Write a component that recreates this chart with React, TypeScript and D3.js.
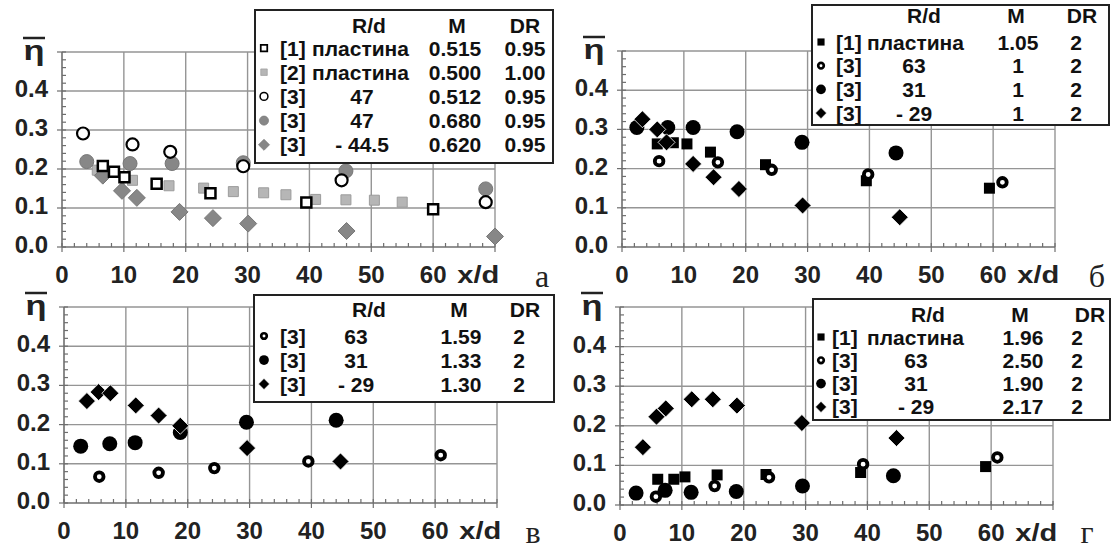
import React from "react";
import * as d3 from "d3";

type Pt = [number, number];

const xTicks = [0, 10, 20, 30, 40, 50, 60];
const yTicks = [0, 0.1, 0.2, 0.3, 0.4];
const yTickLabels = ["0.0", "0.1", "0.2", "0.3", "0.4"];
const legendHead = ["R/d", "M", "DR"];

// panel а
const aPlate1: Pt[] = [[6.6, 0.208], [8.4, 0.193], [10.1, 0.179], [15.3, 0.162], [24.0, 0.138], [39.5, 0.114], [60.0, 0.097]];
const aPlate2: Pt[] = [[5.7, 0.197], [11.4, 0.171], [17.3, 0.157], [22.9, 0.151], [27.7, 0.142], [32.6, 0.139], [36.2, 0.134], [41.0, 0.122], [45.9, 0.121], [50.5, 0.12], [55.0, 0.115]];
const aOpen47: Pt[] = [[3.4, 0.291], [11.4, 0.263], [17.5, 0.244], [29.3, 0.207], [45.2, 0.171], [68.5, 0.115]];
const aGray47: Pt[] = [[4.0, 0.219], [11.0, 0.214], [17.8, 0.214], [29.3, 0.216], [45.9, 0.195], [68.5, 0.149]];
const aNeg445: Pt[] = [[6.6, 0.183], [9.7, 0.144], [12.1, 0.126], [19.0, 0.09], [24.4, 0.074], [30.1, 0.06], [46.0, 0.041], [70.0, 0.027]];

// panel б
const bPlate: Pt[] = [[5.7, 0.263], [8.3, 0.266], [10.5, 0.263], [14.3, 0.242], [23.2, 0.21], [39.5, 0.169], [59.4, 0.15]];
const b63: Pt[] = [[6.0, 0.219], [15.5, 0.216], [24.2, 0.197], [39.8, 0.185], [61.5, 0.165]];
const b31: Pt[] = [[2.4, 0.305], [7.4, 0.305], [11.5, 0.305], [18.6, 0.294], [29.1, 0.267], [44.3, 0.24]];
const bNeg29: Pt[] = [[3.3, 0.326], [5.7, 0.3], [7.2, 0.267], [11.5, 0.212], [14.8, 0.178], [18.9, 0.148], [29.2, 0.106], [44.9, 0.076]];

// panel в
const v63: Pt[] = [[5.7, 0.067], [15.3, 0.077], [24.3, 0.089], [39.5, 0.106], [60.9, 0.122]];
const v31: Pt[] = [[2.7, 0.145], [7.4, 0.151], [11.5, 0.154], [18.8, 0.18], [29.5, 0.206], [44.0, 0.211]];
const vNeg29: Pt[] = [[3.7, 0.26], [5.6, 0.283], [7.5, 0.28], [11.6, 0.249], [15.3, 0.223], [18.8, 0.197], [29.6, 0.14], [44.7, 0.106]];

// panel г
const gPlate: Pt[] = [[6.1, 0.065], [8.7, 0.065], [10.5, 0.071], [15.7, 0.076], [23.6, 0.077], [38.9, 0.082], [59.1, 0.097]];
const g63: Pt[] = [[5.8, 0.021], [15.3, 0.048], [24.1, 0.07], [39.3, 0.103], [61.0, 0.12]];
const g31: Pt[] = [[2.6, 0.03], [7.3, 0.037], [11.5, 0.032], [18.8, 0.034], [29.5, 0.048], [44.2, 0.074]];
const gNeg29: Pt[] = [[3.7, 0.146], [5.9, 0.223], [7.4, 0.244], [11.6, 0.267], [15.0, 0.267], [18.9, 0.251], [29.4, 0.207], [44.7, 0.169]];

// legend tables
const aRefs = ["[1]", "[2]", "[3]", "[3]", "[3]"];
const aRd = ["пластина", "пластина", "47", "47", "- 44.5"];
const aM = ["0.515", "0.500", "0.512", "0.680", "0.620"];
const aDR = ["0.95", "1.00", "0.95", "0.95", "0.95"];
const bRefs = ["[1]", "[3]", "[3]", "[3]"];
const bRd = ["пластина", "63", "31", "- 29"];
const bM = ["1.05", "1", "1", "1"];
const bDR = ["2", "2", "2", "2"];
const vRefs = ["[3]", "[3]", "[3]"];
const vRd = ["63", "31", "- 29"];
const vM = ["1.59", "1.33", "1.30"];
const vDR = ["2", "2", "2"];
const gRefs = ["[1]", "[3]", "[3]", "[3]"];
const gRd = ["пластина", "63", "31", "- 29"];
const gM = ["1.96", "2.50", "1.90", "2.17"];
const gDR = ["2", "2", "2", "2"];

type Mk = { shape: "square" | "circle" | "diamond"; size: number; fill: string; stroke: string; sw: number };

const openSquare: Mk = { shape: "square", size: 10, fill: "#fff", stroke: "#000", sw: 2.5 };
const graySquare: Mk = { shape: "square", size: 10, fill: "#b6b6b6", stroke: "#9c9c9c", sw: 1 };
const openCircle: Mk = { shape: "circle", size: 6, fill: "#fff", stroke: "#000", sw: 2.2 };
const grayCircle: Mk = { shape: "circle", size: 7, fill: "#878787", stroke: "#777", sw: 1 };
const grayDiamond: Mk = { shape: "diamond", size: 8.5, fill: "#878787", stroke: "#777", sw: 1 };
const blackSquare: Mk = { shape: "square", size: 11, fill: "#000", stroke: "#000", sw: 0 };
const ringCircle: Mk = { shape: "circle", size: 4.3, fill: "#fff", stroke: "#000", sw: 3.8 };
const blackCircle: Mk = { shape: "circle", size: 7.5, fill: "#000", stroke: "#000", sw: 0 };
const blackDiamond: Mk = { shape: "diamond", size: 8.5, fill: "#000", stroke: "#fff", sw: 0.8 };

const FONT = "'Liberation Sans', Arial, sans-serif";
const SERIF = "'Liberation Serif', 'Times New Roman', serif";

function Marker({ mk, x, y, k = 1 }: { mk: Mk; x: number; y: number; k?: number }) {
  const s = mk.size * k;
  const sw = mk.sw * (k < 1 ? 0.7 : 1);
  if (mk.shape === "circle")
    return <circle cx={x} cy={y} r={s} fill={mk.fill} stroke={mk.sw ? mk.stroke : "none"} strokeWidth={sw} />;
  const d =
    mk.shape === "square"
      ? `M${x - s / 2},${y - s / 2}h${s}v${s}h${-s}Z`
      : `M${x},${y - s}L${x + s},${y}L${x},${y + s}L${x - s},${y}Z`;
  return <path d={d} fill={mk.fill} stroke={mk.sw ? mk.stroke : "none"} strokeWidth={sw} />;
}

type Series = { pts: Pt[]; mk: Mk };
type Legend = {
  box: [number, number, number, number];
  headY: number; rowY: number; step: number;
  mkX: number; refX: number; plateX: number; rdX: number; rdHeadX: number;
  mX: number; mHeadX: number; drX: number; drHeadX: number;
  refs: string[]; rd: string[]; m: string[]; dr: string[];
};

type PanelCfg = {
  left: number; top: number; bottom: number; letter: string; letterX: number; letterY: number;
  series: Series[]; order: number[]; legend: Legend;
};

const W = 433;

const panels: PanelCfg[] = [
  {
    left: 62, top: 52, bottom: 247, letter: "а", letterX: 542, letterY: 287,
    series: [
      { pts: aPlate1, mk: openSquare },
      { pts: aPlate2, mk: graySquare },
      { pts: aOpen47, mk: openCircle },
      { pts: aGray47, mk: grayCircle },
      { pts: aNeg445, mk: grayDiamond },
    ],
    order: [1, 3, 4, 0, 2],
    legend: {
      box: [255, 10, 553, 163], headY: 25, rowY: 48, step: 24.2,
      mkX: 264, refX: 280, plateX: 312, rdX: 362, rdHeadX: 369, mX: 455, mHeadX: 457, drX: 525, drHeadX: 525,
      refs: aRefs, rd: aRd, m: aM, dr: aDR,
    },
  },
  {
    left: 622, top: 51, bottom: 247, letter: "б", letterX: 1097, letterY: 287,
    series: [
      { pts: bPlate, mk: blackSquare },
      { pts: b63, mk: ringCircle },
      { pts: b31, mk: blackCircle },
      { pts: bNeg29, mk: blackDiamond },
    ],
    order: [0, 2, 3, 1],
    legend: {
      box: [812, 5, 1109, 125], headY: 15, rowY: 42, step: 23.7,
      mkX: 821, refX: 836, plateX: 867, rdX: 914, rdHeadX: 924, mX: 1018, mHeadX: 1016, drX: 1076, drHeadX: 1082,
      refs: bRefs, rd: bRd, m: bM, dr: bDR,
    },
  },
  {
    left: 64, top: 307, bottom: 503, letter: "в", letterX: 533, letterY: 543,
    series: [
      { pts: v63, mk: ringCircle },
      { pts: v31, mk: blackCircle },
      { pts: vNeg29, mk: blackDiamond },
    ],
    order: [1, 2, 0],
    legend: {
      box: [254, 295, 554, 402], headY: 309, rowY: 336, step: 24,
      mkX: 264, refX: 280, plateX: 312, rdX: 356, rdHeadX: 369, mX: 461, mHeadX: 459, drX: 519, drHeadX: 525,
      refs: vRefs, rd: vRd, m: vM, dr: vDR,
    },
  },
  {
    left: 620, top: 307, bottom: 505, letter: "г", letterX: 1087, letterY: 543,
    series: [
      { pts: gPlate, mk: blackSquare },
      { pts: g63, mk: ringCircle },
      { pts: g31, mk: blackCircle },
      { pts: gNeg29, mk: blackDiamond },
    ],
    order: [0, 2, 3, 1],
    legend: {
      box: [813, 299, 1110, 420], headY: 314, rowY: 337, step: 23.3,
      mkX: 821, refX: 832, plateX: 867, rdX: 916, rdHeadX: 928, mX: 1023, mHeadX: 1020, drX: 1077, drHeadX: 1090,
      refs: gRefs, rd: gRd, m: gM, dr: gDR,
    },
  },
];

function LegendBox({ lg, series }: { lg: Legend; series: Series[] }) {
  const [x0, y0, x1, y1] = lg.box;
  const fs = 21;
  const base = (c: number) => c + 7.5;
  return (
    <g fontFamily={FONT} fontSize={fs} fontWeight="bold" fill="#111">
      <rect x={x0} y={y0} width={x1 - x0} height={y1 - y0} fill="#fff" stroke="#222" strokeWidth={2} />
      <text x={lg.rdHeadX} y={base(lg.headY)} textAnchor="middle">{legendHead[0]}</text>
      <text x={lg.mHeadX} y={base(lg.headY)} textAnchor="middle">{legendHead[1]}</text>
      <text x={lg.drHeadX} y={base(lg.headY)} textAnchor="middle">{legendHead[2]}</text>
      {lg.refs.map((r, i) => {
        const cy = lg.rowY + i * lg.step;
        const plate = lg.rd[i] === "пластина";
        return (
          <g key={i}>
            <Marker mk={series[i].mk} x={lg.mkX} y={cy} k={0.65} />
            <text x={lg.refX} y={base(cy)}>{r}</text>
            {plate ? (
              <text x={lg.plateX} y={base(cy)}>{lg.rd[i]}</text>
            ) : (
              <text x={lg.rdX} y={base(cy)} textAnchor="middle">{lg.rd[i]}</text>
            )}
            <text x={lg.mX} y={base(cy)} textAnchor="middle">{lg.m[i]}</text>
            <text x={lg.drX} y={base(cy)} textAnchor="middle">{lg.dr[i]}</text>
          </g>
        );
      })}
    </g>
  );
}

function Panel({ p }: { p: PanelCfg }) {
  const x = d3.scaleLinear().domain([0, 70]).range([p.left, p.left + W]);
  const y = d3.scaleLinear().domain([0, 0.5]).range([p.bottom, p.top]);
  const xMinor = d3.range(0, 70.01, 2);
  const yMinor = d3.range(0, 0.501, 0.02);
  const grid = "#959595";
  const axis = "#6e6e6e";
  const etaX = p.left - 28;
  const etaBase = p.top + 8;
  return (
    <g>
      {/* grid */}
      {d3.range(10, 71, 10).map((v) => (
        <line key={"gx" + v} x1={x(v)} x2={x(v)} y1={y(0)} y2={y(0.5)} stroke={grid} strokeWidth={1.4} />
      ))}
      {d3.range(0.1, 0.51, 0.1).map((v) => (
        <line key={"gy" + v} x1={x(0)} x2={x(70)} y1={y(v)} y2={y(v)} stroke={grid} strokeWidth={1.4} />
      ))}
      {/* axes */}
      <line x1={x(0)} x2={x(70)} y1={y(0)} y2={y(0)} stroke={axis} strokeWidth={1.6} />
      <line x1={x(0)} x2={x(0)} y1={y(0)} y2={y(0.5)} stroke={axis} strokeWidth={1.6} />
      {xMinor.map((v) => (
        <line key={"tx" + v} x1={x(v)} x2={x(v)} y1={y(0) - 4} y2={y(0) + (v % 10 === 0 ? 5 : 0)} stroke={axis} strokeWidth={1.2} />
      ))}
      {yMinor.map((v, i) => (
        <line key={"ty" + i} x1={x(0) - (i % 5 === 0 ? 5 : 0)} x2={x(0) + 4} y1={y(v)} y2={y(v)} stroke={axis} strokeWidth={1.2} />
      ))}
      {/* tick labels */}
      <g fontFamily={FONT} fontWeight="bold" fontSize={24} fill="#222">
        {xTicks.map((v) => (
          <text key={"lx" + v} x={x(v)} y={y(0) + 36} textAnchor="middle">{v}</text>
        ))}
        <text x={x(67.3)} y={y(0) + 36} textAnchor="middle" textLength={42} lengthAdjust="spacingAndGlyphs">x/d</text>
        {yTicks.map((v, i) => (
          <text key={"ly" + v} x={x(0) - 14} y={y(v) + 6} textAnchor="end">{yTickLabels[i]}</text>
        ))}
      </g>
      {/* axis title η with overbar */}
      <text x={etaX} y={etaBase} textAnchor="middle" fontFamily={FONT} fontWeight="bold" fontSize={28} fill="#222" textLength={21} lengthAdjust="spacingAndGlyphs">η</text>
      <line x1={etaX - 11} x2={etaX + 11} y1={etaBase - 22} y2={etaBase - 22} stroke="#222" strokeWidth={2.5} />
      {/* data */}
      {p.order.map((si) =>
        p.series[si].pts.map((d, j) => <Marker key={si + "-" + j} mk={p.series[si].mk} x={x(d[0])} y={y(d[1])} />)
      )}
      <LegendBox lg={p.legend} series={p.series} />
      <text x={p.letterX} y={p.letterY} textAnchor="middle" fontFamily={SERIF} fontSize={32} fill="#222">{p.letter}</text>
    </g>
  );
}

export default function App() {
  return (
    <svg
      width={1111}
      height={552}
      viewBox="0 0 1111 552"
      style={{ position: "absolute", left: 0, top: 0, background: "#fff" }}
    >
      <rect width={1111} height={552} fill="#fff" />
      {panels.map((p, i) => (
        <Panel key={i} p={p} />
      ))}
    </svg>
  );
}
